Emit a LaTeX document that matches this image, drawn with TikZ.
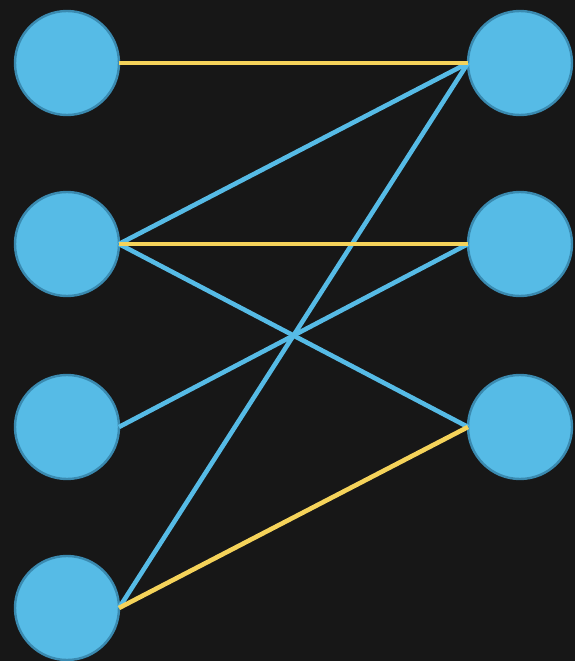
\documentclass[tikz,border=0pt]{standalone}
\definecolor{board}{HTML}{171717}
\definecolor{dotfill}{HTML}{56BBE6}
\definecolor{dotline}{HTML}{3A8AB0}
\definecolor{chalkyellow}{HTML}{F5D35A}
\definecolor{chalkblue}{HTML}{56BBE6}
\begin{document}
\begin{tikzpicture}[x=0.5pt, y=0.5pt]
% Styles
\tikzstyle{vertex} = [circle, draw=dotline, fill=dotfill, line width=1.2pt, minimum size=52pt, inner sep=0pt, outer sep=0pt]
\tikzstyle{match} = [line width=2.3pt, draw=chalkyellow]
\tikzstyle{link} = [line width=2.3pt, draw=chalkblue]

% Board
\fill[board] (0,0) rectangle (575,661);
\useasboundingbox (0,0) rectangle (575,661);

% Nodes
\node (l1) [vertex] at (67,598) {};
\node (l2) [vertex] at (67,417) {};
\node (l3) [vertex] at (67,234) {};
\node (l4) [vertex] at (67,53) {};

\node (r1) [vertex] at (520,598) {};
\node (r2) [vertex] at (520,417) {};
\node (r3) [vertex] at (520,234) {};

% Edges
\draw [link] (l2.east) -- (r1.west);
\draw [link] (l2.east) -- (r3.west);
\draw [link] (l3.east) -- (r2.west);
\draw [link] (l4.east) -- (r1.west);
\draw [match] (l1.east) -- (r1.west);
\draw [match] (l2.east) -- (r2.west);
\draw [match] (l4.east) -- (r3.west);

\end{tikzpicture}
\end{document}
